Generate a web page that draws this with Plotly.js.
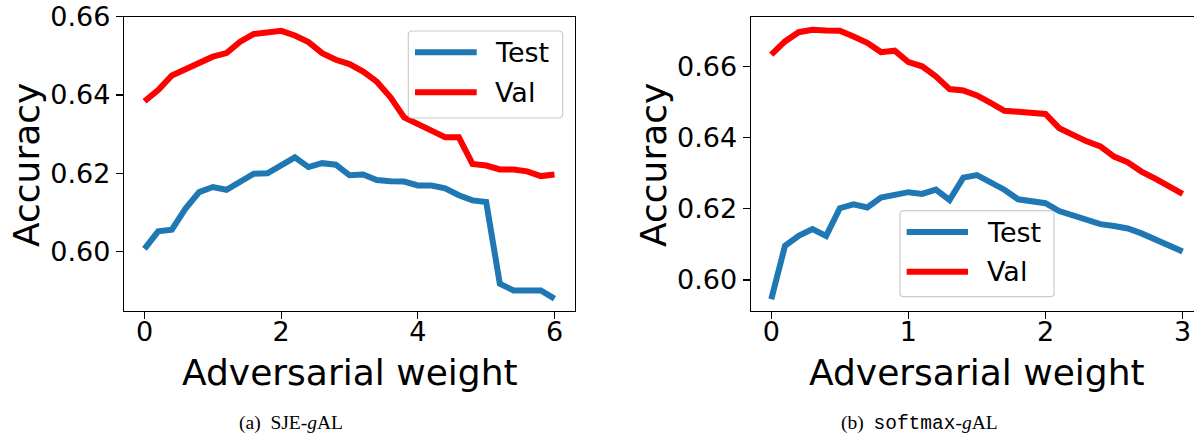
<!DOCTYPE html>
<html><head><meta charset="utf-8">
<script src="https://cdn.plot.ly/plotly-3.0.1.min.js"></script>
<style>html,body{margin:0;padding:0;overflow:hidden;background:#fff}#chart{width:1220px;height:443px}</style>
</head><body><div id="chart"></div>
<script>
// ---- data ----
const weightsA = [0,0.2,0.4,0.6,0.8,1.0,1.2,1.4,1.6,1.8,2.0,2.2,2.4,2.6,2.8,3.0,3.2,3.4,3.6,3.8,4.0,4.2,4.4,4.6,4.8,5.0,5.2,5.4,5.6,5.8,6.0];
const testA = [0.6007,0.6052,0.6056,0.6110,0.6152,0.6165,0.6158,0.6178,0.6199,0.6200,0.6220,0.6241,0.6216,0.6226,0.6222,0.6195,0.6197,0.6183,0.6180,0.6179,0.6169,0.6169,0.6162,0.6144,0.6131,0.6127,0.5918,0.5901,0.5901,0.5901,0.5880];
const valA = [0.6384,0.6413,0.6450,0.6467,0.6485,0.6498,0.6507,0.6536,0.6556,0.6559,0.6564,0.6552,0.6535,0.6507,0.6490,0.6479,0.6460,0.6434,0.6394,0.6343,0.6324,0.6309,0.6292,0.6292,0.6224,0.6220,0.6210,0.6210,0.6205,0.6193,0.6197];
const weightsB = [0,0.1,0.2,0.3,0.4,0.5,0.6,0.7,0.8,0.9,1.0,1.1,1.2,1.3,1.4,1.5,1.6,1.7,1.8,1.9,2.0,2.1,2.2,2.3,2.4,2.5,2.6,2.7,2.8,2.9,3.0];
const testB = [0.5946,0.6096,0.6124,0.6143,0.6124,0.6202,0.6213,0.6204,0.6232,0.6238,0.6247,0.6242,0.6254,0.6225,0.6288,0.6295,0.6275,0.6254,0.6227,0.6223,0.6216,0.6194,0.6181,0.6169,0.6157,0.6152,0.6145,0.6131,0.6113,0.6096,0.6080];
const valB = [0.6634,0.6671,0.6697,0.6704,0.6702,0.6701,0.6685,0.6667,0.6641,0.6645,0.6613,0.6601,0.6573,0.6537,0.6533,0.6519,0.6498,0.6476,0.6473,0.6472,0.6467,0.6427,0.6408,0.6390,0.6376,0.6347,0.6331,0.6305,0.6285,0.6263,0.6242];
const seriesNames = ['Test', 'Val'];
const yTickVals = [0.60, 0.62, 0.64, 0.66];
const xTickValsA = [0, 2, 4, 6];
const xTickValsB = [0, 1, 2, 3];
const xLabel = 'Adversarial weight';
const yLabel = 'Accuracy';
const captionA = '(a)\u00a0\u00a0SJE-<i>g</i>AL';
const captionB = '(b)\u00a0\u00a0<span style="font-family:\'Liberation Mono\'">softmax</span>-<i>g</i>AL';

// ---- layout helpers ----
const W = 1220, H = 443;
const px = x => x / W;
const py = y => 1 - y / H;
const BLUE = '#1f77b4', RED = '#ff0000';
const LW = 6;
const sans = 'DejaVu Sans, sans-serif';

const traces = [
  {x: weightsA, y: testA, name: seriesNames[0], xaxis: 'x', yaxis: 'y', mode: 'lines', line: {color: BLUE, width: LW}, showlegend: false},
  {x: weightsA, y: valA, name: seriesNames[1], xaxis: 'x', yaxis: 'y', mode: 'lines', line: {color: RED, width: LW}, showlegend: false},
  {x: weightsB, y: testB, name: seriesNames[0], xaxis: 'x2', yaxis: 'y2', mode: 'lines', line: {color: BLUE, width: LW}, showlegend: false},
  {x: weightsB, y: valB, name: seriesNames[1], xaxis: 'x2', yaxis: 'y2', mode: 'lines', line: {color: RED, width: LW}, showlegend: false}
];

const axBase = {
  showline: true, mirror: true, linecolor: '#000', linewidth: 1.2,
  ticks: 'outside', ticklen: 7, tickwidth: 1.2, tickcolor: '#000',
  showgrid: false, zeroline: false,
  tickfont: {family: sans, size: 27, color: '#000'}
};
const xAxBase = Object.assign({}, axBase, {ticklabelstandoff: -10});
const yDom = [py(310.7), py(16.7)];

function roundRect(x0, y0, x1, y1, r) {
  const rx = r / W, ry = r / H;
  const X0 = px(x0), X1 = px(x1), Y0 = py(y0), Y1 = py(y1); // Y0 top, Y1 bottom
  return `M${X0 + rx},${Y0} L${X1 - rx},${Y0} Q${X1},${Y0} ${X1},${Y0 - ry} ` +
         `L${X1},${Y1 + ry} Q${X1},${Y1} ${X1 - rx},${Y1} L${X0 + rx},${Y1} ` +
         `Q${X0},${Y1} ${X0},${Y1 + ry} L${X0},${Y0 - ry} Q${X0},${Y0} ${X0 + rx},${Y0} Z`;
}

function legend(box, lineX0, lineX1, ys, textX) {
  const shapes = [{
    type: 'path', xref: 'paper', yref: 'paper', layer: 'above',
    path: roundRect(box[0], box[1], box[2], box[3], 4),
    fillcolor: 'rgba(255,255,255,0.8)', line: {color: '#cccccc', width: 1.2}
  }];
  const anns = [];
  const colors = [BLUE, RED];
  ys.forEach((yy, i) => {
    shapes.push({type: 'line', xref: 'paper', yref: 'paper', layer: 'above',
      x0: px(lineX0), x1: px(lineX1), y0: py(yy), y1: py(yy),
      line: {color: colors[i], width: LW}});
    anns.push({xref: 'paper', yref: 'paper', x: px(textX), y: py(yy), xanchor: 'left', yanchor: 'middle',
      text: seriesNames[i], showarrow: false, font: {family: sans, size: 27, color: '#000'}});
  });
  return {shapes, anns};
}

const legA = legend([408.3, 31, 562.7, 118], 415, 476.7, [52.3, 92.3], 493);
const legB = legend([900, 210.7, 1054, 296.7], 906.7, 968, [232, 271.7], 985);

const titleFont = {family: sans, size: 36, color: '#000'};
const capFont = {family: 'Liberation Serif, serif', size: 19.5, color: '#000'};

const annotations = [
  {xref: 'paper', yref: 'paper', x: px(26), y: py(165), text: yLabel, textangle: -90, showarrow: false, font: titleFont, xanchor: 'center', yanchor: 'middle'},
  {xref: 'paper', yref: 'paper', x: px(653), y: py(165), text: yLabel, textangle: -90, showarrow: false, font: titleFont, xanchor: 'center', yanchor: 'middle'},
  {xref: 'paper', yref: 'paper', x: px(349.5), y: py(372), text: xLabel, showarrow: false, font: titleFont, xanchor: 'center', yanchor: 'middle'},
  {xref: 'paper', yref: 'paper', x: px(977), y: py(372), text: xLabel, showarrow: false, font: titleFont, xanchor: 'center', yanchor: 'middle'},
  {xref: 'paper', yref: 'paper', x: px(291), y: py(423), text: captionA, showarrow: false, font: capFont, xanchor: 'center', yanchor: 'middle'},
  {xref: 'paper', yref: 'paper', x: px(920), y: py(423), text: captionB, showarrow: false, font: capFont, xanchor: 'center', yanchor: 'middle'}
].concat(legA.anns, legB.anns);

const layout = {
  width: W, height: H,
  margin: {l: 0, r: 0, t: 0, b: 0},
  paper_bgcolor: '#fff', plot_bgcolor: '#fff',
  showlegend: false,
  xaxis: Object.assign({}, xAxBase, {domain: [px(124), px(575)], range: [-0.3, 6.3], tickvals: xTickValsA, anchor: 'y'}),
  yaxis: Object.assign({}, axBase, {domain: yDom, range: [0.58493, 0.66], tickvals: yTickVals, tickformat: '.2f', anchor: 'x'}),
  xaxis2: Object.assign({}, xAxBase, {domain: [px(750.7), px(1203.2)], range: [-0.15, 3.15], tickvals: xTickValsB, anchor: 'y2'}),
  yaxis2: Object.assign({}, axBase, {domain: yDom, range: [0.59136, 0.67406], tickvals: yTickVals, tickformat: '.2f', anchor: 'x2'}),
  shapes: legA.shapes.concat(legB.shapes),
  annotations: annotations
};

Plotly.newPlot('chart', traces, layout, {staticPlot: true, displayModeBar: false});
</script>
</body></html>
